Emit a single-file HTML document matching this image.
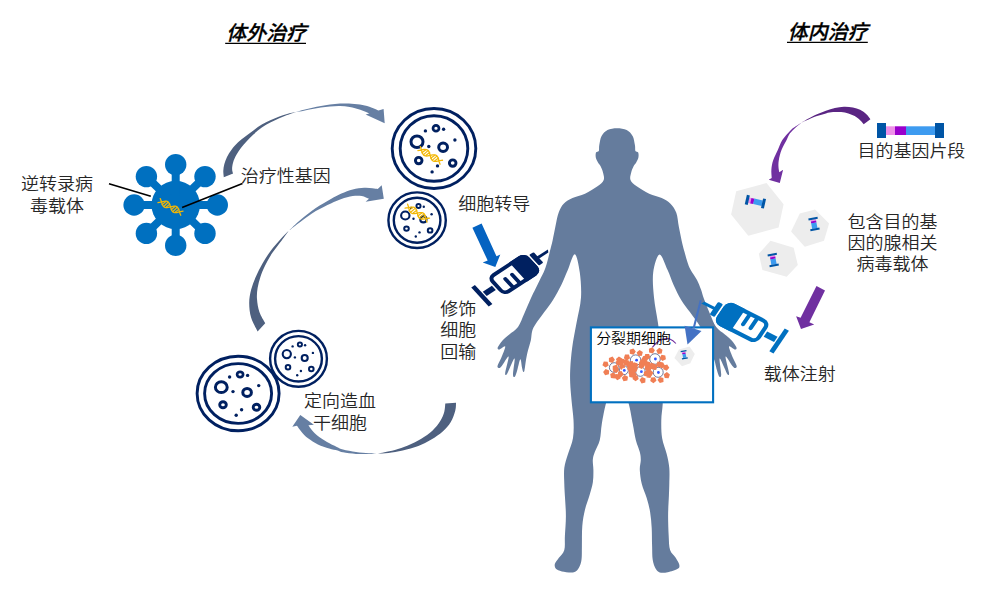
<!DOCTYPE html>
<html lang="zh-CN">
<head>
<meta charset="utf-8">
<title>基因治疗示意图</title>
<style>
html,body{margin:0;padding:0;background:#fff;}
body{width:1002px;height:594px;overflow:hidden;font-family:"Liberation Sans","Noto Sans CJK SC",sans-serif;}
svg{display:block;}
text{font-family:"Liberation Sans","Noto Sans CJK SC",sans-serif;}
</style>
</head>
<body>
<svg width="1002" height="594" viewBox="0 0 1002 594">
<rect width="1002" height="594" fill="#fff"/>
<g id="arrows">
<path fill="#4e607f" d="M223.8 177.2C223.7 176.1 223.2 172.8 223.3 170.7C223.4 168.5 223.7 166.6 224.3 164.3C224.9 162 225.8 159.4 227 156.9C228.2 154.4 229.8 151.9 231.7 149.4C233.5 146.9 235.8 144.4 238.1 142.2C240.4 140 242.8 138.4 245.3 136.4C247.9 134.4 250.7 132.4 253.4 130.4C256.1 128.4 259 126.3 261.8 124.6C264.6 122.9 267.5 121.6 270.3 120.3C273.1 119 275.9 117.8 278.7 116.7C281.5 115.6 284.2 114.7 287.1 113.9C290 113.1 294.5 112.3 296 112L296 112C294.5 112.5 290 114 287.1 115.1C284.2 116.2 281.5 117.2 278.7 118.5C275.9 119.8 273.1 121.1 270.3 122.6C267.5 124.1 264.6 125.6 261.8 127.6C259 129.6 256 132.1 253.4 134.4C250.8 136.7 248.6 139.3 246.5 141.6C244.4 143.9 242.6 145.9 240.9 148.1C239.2 150.3 237.6 152.6 236.3 155C235 157.4 233.8 160.1 233.1 162.4C232.4 164.7 232.1 167 232.1 168.9C232.1 170.8 232.9 172.8 233.1 173.6Z"/><path fill="#667fa3" d="M296 112C297.3 111.6 301.2 110.4 303.9 109.7C306.6 109 309.5 108.4 312.4 107.8C315.2 107.2 318.1 106.5 321 106C323.9 105.5 326.8 104.9 330 104.5C333.2 104.1 336.8 103.8 340 103.6C343.2 103.4 345.7 103.3 349 103.5C352.3 103.7 356.6 104 360 104.5C363.4 105 366.3 105.7 369.4 106.7C372.5 107.7 377 109.9 378.5 110.5L383.6 108.9L384.7 123.3L365.6 114.6L369.4 113.5C367.9 112.9 363.6 110.8 360.3 109.7C357 108.6 353.1 107.6 349.7 107C346.3 106.4 343.3 106.1 340 106C336.7 105.9 333.2 106.2 330 106.4C326.8 106.6 323.9 107 321 107.4C318.1 107.9 315.2 108.5 312.4 109.1C309.5 109.6 306.6 110.2 303.9 110.7C301.2 111.2 297.3 111.8 296 112Z"/>
<path fill="#4e607f" d="M257.6 331.5C256.5 329.2 252.5 322.4 251.1 317.6C249.7 312.9 249.2 307.6 249.2 303C249.2 298.4 250 294.2 251.1 289.8C252.2 285.4 253.8 281.2 255.7 276.9C257.6 272.6 259.7 268.2 262.2 263.9C264.7 259.6 267.5 255.1 270.6 250.9C273.7 246.7 277.7 242.2 280.7 238.9C283.7 235.6 287.2 232.3 288.5 231L288.5 231C287.4 232.6 284.4 236.8 281.7 240.4C279 244 275.2 248.6 272.4 252.8C269.6 257 267 261.7 265 265.7C263 269.7 261.6 273.2 260.4 276.9C259.2 280.6 258.2 284.3 257.6 288C257 291.7 256.7 295.1 257 299.1C257.3 303.1 258 308 259.4 312C260.8 316 264.2 321.3 265.2 323.2Z"/><path fill="#667fa3" d="M288.5 231C290.5 229.1 296.1 223.5 300.6 219.7C305.2 215.9 310.8 211.5 315.8 208C320.9 204.5 326.6 201.3 330.9 198.9C335.2 196.5 337.8 195.1 341.4 193.5C345 191.9 348.9 190.3 352.7 189.4C356.5 188.5 360.8 188 364.1 187.8C367.4 187.6 370.1 188 372.4 188.2C374.7 188.4 376.8 188.8 377.7 188.9L381.7 185.2L383.8 198.8L365.6 201.7L369 198.8C367.8 198.4 364.5 196.6 361.8 196.1C359.1 195.6 356.1 195.6 352.7 196.1C349.3 196.6 345 197.8 341.4 199C337.8 200.2 335.2 201.5 330.9 203.5C326.6 205.5 320.9 208.1 315.8 211.1C310.8 214.1 305.2 218.4 300.6 221.7C296.1 225 290.5 229.4 288.5 231Z"/>
<path fill="#4e607f" d="M456 402.8C455.9 404.1 456.2 407.2 455.3 410.4C454.4 413.6 452.9 418.6 450.8 422.1C448.8 425.6 446.2 428.3 443 431.2C439.8 434.1 435.4 437.1 431.3 439.6C427.2 442.1 423.1 444.3 418.3 446.1C413.5 447.9 407.7 449.5 402.7 450.6C397.7 451.7 392.5 452.4 388.4 452.9C384.3 453.4 379.7 453.3 378 453.4L378 453.4C379.1 453.2 381.7 452.9 384.5 452.3C387.3 451.7 391 451.1 394.9 450C398.8 448.9 403.6 447.3 407.9 445.5C412.2 443.7 416.8 441.5 420.9 439C425 436.5 429.4 433.5 432.6 430.5C435.9 427.5 438.4 423.9 440.4 420.8C442.3 417.7 443.5 414.6 444.3 411.7C445.1 408.8 445.1 405 445.3 403.6Z"/><path fill="#667fa3" d="M378 453.4C376.5 453.4 372.7 453.4 369 453.2C365.3 452.9 360.3 452.5 356 451.9C351.7 451.3 346.2 450.2 343 449.4C339.8 448.6 339.5 448.1 336.8 446.9C334.1 445.7 330.1 443.9 327 442.1C323.9 440.3 320.4 438.1 317.9 436.1C315.4 434.1 313.4 431.8 311.8 430C310.2 428.2 309 426.1 308.4 425.3L313.9 424.8L300.3 415L292.3 426.7L297 425.8C297.7 426.8 299.4 429.4 301.2 431.5C303 433.6 305.2 436.2 308 438.3C310.8 440.4 314.4 442.7 317.9 444.4C321.4 446.1 325.9 447.4 329.2 448.4C332.5 449.4 335.3 449.8 337.6 450.4C339.9 451 339.9 451.7 343 452.3C346.1 452.9 351.7 453.6 356 453.9C360.3 454.2 365.3 454.1 369 454C372.7 453.9 376.5 453.5 378 453.4Z"/>
<path fill="#5a2583" d="M870.4 119.3C869.7 118.5 868.1 115.9 866.4 114.3C864.7 112.7 862.4 110.9 860.1 109.8C857.9 108.7 855.6 107.9 852.9 107.4C850.2 106.9 846.9 106.6 843.9 106.7C840.9 106.8 837.9 107.3 834.9 108C831.9 108.7 828.9 109.7 825.9 110.7C822.9 111.8 820 113 817 114.3C814 115.6 810.5 117.4 808 118.8C805.5 120.2 802.8 121.9 801.7 122.5L801.7 122.5C802.8 122 805.5 120.8 808 119.7C810.5 118.6 814 117.1 817 116.1C820 115 823.2 114.1 825.9 113.4C828.6 112.7 830.5 112.3 833.1 112.1C835.7 111.9 838.7 111.9 841.2 112.1C843.8 112.3 846.1 112.7 848.4 113.4C850.6 114.1 852.8 115 854.7 116.1C856.7 117.2 858.6 118.8 860.1 120.2C861.6 121.6 863.1 123.5 863.7 124.2Z"/><path fill="#7030a0" d="M801.7 122.5C800.7 123.2 797.4 125.2 795.4 126.6C793.4 128 792.2 128.7 790 130.9C787.8 133.1 784.3 136.8 782.3 140C780.3 143.2 779.3 146.7 777.8 150.1C776.3 153.5 774.3 157 773.2 160.2C772.1 163.4 771.6 166.4 771.4 169.3C771.1 172.2 771.7 176.5 771.7 177.9L768.7 179.7L779.8 182.9L783.1 169.8L779.3 172.3C779.2 171.5 778.6 169.3 778.5 167.3C778.4 165.3 778.3 163.1 778.8 160.2C779.3 157.3 780.2 153.5 781.5 150.1C782.8 146.7 785.2 142.8 786.6 140C788 137.2 788.5 135.2 790 133.2C791.5 131.2 793.4 129.6 795.4 127.8C797.4 126 800.7 123.4 801.7 122.5Z"/>
<path fill="#0563c1" d="M472.4 227.7L481.6 223.5L496.5 256.3L500.3 254.4L495.3 266.9L482.7 262.4L487.7 260.6Z"/>
<path fill="#7030a0" d="M816.5 286.1L825 290.6L809.4 322.2L814.2 324.4L801 328.9L796.1 316.2L800.6 317.7Z"/>
</g>
<g id="virus" fill="#0070c0" stroke="#0070c0"><circle cx="175.7" cy="205" r="24.2" stroke="none"/><path d="M175.7 205L217.3 205M175.7 205L205 233.4M175.7 205L175.7 245.4M175.7 205L146.4 233.4M175.7 205L134.1 205M175.7 205L146.4 176.6M175.7 205L175.7 164.6M175.7 205L205 176.6" stroke-width="8" fill="none"/><circle cx="217.3" cy="205" r="10.7" stroke="none"/><circle cx="205" cy="233.4" r="10.7" stroke="none"/><circle cx="175.7" cy="245.4" r="10.7" stroke="none"/><circle cx="146.4" cy="233.4" r="10.7" stroke="none"/><circle cx="134.1" cy="205" r="10.7" stroke="none"/><circle cx="146.4" cy="176.6" r="10.7" stroke="none"/><circle cx="175.7" cy="164.6" r="10.7" stroke="none"/><circle cx="205" cy="176.6" r="10.7" stroke="none"/></g>
<g transform="translate(170.5 206.9) rotate(29) scale(0.93)" fill="none" stroke="#f2b705" stroke-linecap="round"><path stroke-width="1.4" d="M-14 2.5L-13 1.7L-12 0.9L-11 -0.1L-10 -1L-9 -1.9L-8 -2.6L-7 -3.1L-6 -3.4L-5 -3.4L-4 -3.1L-3 -2.6L-2 -1.8L-1 -0.9L0 0L1 0.9L2 1.8L3 2.6L4 3.1L5 3.4L6 3.4L7 3.1L8 2.6L9 1.9L10 1L11 0.1L12 -0.9L13 -1.7L14 -2.5M-14 -2.5L-13 -1.7L-12 -0.9L-11 0.1L-10 1L-9 1.9L-8 2.6L-7 3.1L-6 3.4L-5 3.4L-4 3.1L-3 2.6L-2 1.8L-1 0.9L0 0L1 -0.9L2 -1.8L3 -2.6L4 -3.1L5 -3.4L6 -3.4L7 -3.1L8 -2.6L9 -1.9L10 -1L11 -0.1L12 0.9L13 1.7L14 2.5"/><path stroke-width="1.26" d="M-9.1 2.3L-7.3 -2.3M-6.5 3.1L-4.7 -3.1M-3.9 2.3L-2.1 -2.3M2.1 2.3L3.9 -2.3M4.7 3.1L6.5 -3.1M7.3 2.3L9.1 -2.3"/></g>
<path d="M109 183.8L150.8 196.2M182.1 207.6L242.5 183.6" stroke="#000" stroke-width="1.6" fill="none"/>
<g id="dishes">
<g fill="none" stroke="#002060"><ellipse cx="434" cy="148.5" rx="41.8" ry="40" stroke-width="2.9"/><ellipse cx="434" cy="148.5" rx="33.8" ry="32.8" stroke-width="2.9"/><ellipse cx="417" cy="141.8" rx="6" ry="5.8" stroke-width="3"/><ellipse cx="436" cy="128.2" rx="3" ry="2.9" stroke-width="2.7"/><ellipse cx="443.1" cy="147.3" rx="4.4" ry="4.2" stroke-width="3"/><ellipse cx="418.7" cy="160.6" rx="3.3" ry="3.2" stroke-width="2.9"/><ellipse cx="452.7" cy="163.1" rx="3.3" ry="3.2" stroke-width="2.9"/><circle cx="425.4" cy="130.9" r="1.7" fill="#002060" stroke="none"/><circle cx="443.6" cy="129.2" r="1.7" fill="#002060" stroke="none"/><circle cx="454.9" cy="140" r="1.7" fill="#002060" stroke="none"/><circle cx="428.8" cy="146.5" r="1.7" fill="#002060" stroke="none"/><circle cx="437.5" cy="165.9" r="1.7" fill="#002060" stroke="none"/><circle cx="432.1" cy="171.9" r="1.7" fill="#002060" stroke="none"/></g>
<g transform="translate(430.2 155.4) rotate(31.7) scale(0.93)" fill="none" stroke="#f2b705" stroke-linecap="round"><path stroke-width="1.4" d="M-14 2.5L-13 1.7L-12 0.9L-11 -0.1L-10 -1L-9 -1.9L-8 -2.6L-7 -3.1L-6 -3.4L-5 -3.4L-4 -3.1L-3 -2.6L-2 -1.8L-1 -0.9L0 0L1 0.9L2 1.8L3 2.6L4 3.1L5 3.4L6 3.4L7 3.1L8 2.6L9 1.9L10 1L11 0.1L12 -0.9L13 -1.7L14 -2.5M-14 -2.5L-13 -1.7L-12 -0.9L-11 0.1L-10 1L-9 1.9L-8 2.6L-7 3.1L-6 3.4L-5 3.4L-4 3.1L-3 2.6L-2 1.8L-1 0.9L0 0L1 -0.9L2 -1.8L3 -2.6L4 -3.1L5 -3.4L6 -3.4L7 -3.1L8 -2.6L9 -1.9L10 -1L11 -0.1L12 0.9L13 1.7L14 2.5"/><path stroke-width="1.26" d="M-9.1 2.3L-7.3 -2.3M-6.5 3.1L-4.7 -3.1M-3.9 2.3L-2.1 -2.3M2.1 2.3L3.9 -2.3M4.7 3.1L6.5 -3.1M7.3 2.3L9.1 -2.3"/></g>
<g fill="none" stroke="#002060"><ellipse cx="417.1" cy="220.2" rx="28.7" ry="27.8" stroke-width="2.4"/><ellipse cx="417.1" cy="220.2" rx="23.3" ry="22.5" stroke-width="2.4"/><ellipse cx="405.3" cy="215.5" rx="4.2" ry="4" stroke-width="2.1"/><ellipse cx="418.5" cy="206" rx="2.1" ry="2" stroke-width="1.9"/><ellipse cx="423.4" cy="219.4" rx="3.1" ry="3" stroke-width="2.1"/><ellipse cx="406.5" cy="228.6" rx="2.3" ry="2.2" stroke-width="2"/><ellipse cx="430.1" cy="230.4" rx="2.3" ry="2.2" stroke-width="2"/><circle cx="411.1" cy="207.9" r="1.2" fill="#002060" stroke="none"/><circle cx="423.8" cy="206.7" r="1.2" fill="#002060" stroke="none"/><circle cx="431.6" cy="214.3" r="1.2" fill="#002060" stroke="none"/><circle cx="413.5" cy="218.8" r="1.2" fill="#002060" stroke="none"/><circle cx="419.5" cy="232.4" r="1.2" fill="#002060" stroke="none"/><circle cx="415.8" cy="236.5" r="1.2" fill="#002060" stroke="none"/></g>
<g transform="translate(417.3 213.1) rotate(32.5) scale(0.93)" fill="none" stroke="#f2b705" stroke-linecap="round"><path stroke-width="1.4" d="M-14 2.5L-13 1.7L-12 0.9L-11 -0.1L-10 -1L-9 -1.9L-8 -2.6L-7 -3.1L-6 -3.4L-5 -3.4L-4 -3.1L-3 -2.6L-2 -1.8L-1 -0.9L0 0L1 0.9L2 1.8L3 2.6L4 3.1L5 3.4L6 3.4L7 3.1L8 2.6L9 1.9L10 1L11 0.1L12 -0.9L13 -1.7L14 -2.5M-14 -2.5L-13 -1.7L-12 -0.9L-11 0.1L-10 1L-9 1.9L-8 2.6L-7 3.1L-6 3.4L-5 3.4L-4 3.1L-3 2.6L-2 1.8L-1 0.9L0 0L1 -0.9L2 -1.8L3 -2.6L4 -3.1L5 -3.4L6 -3.4L7 -3.1L8 -2.6L9 -1.9L10 -1L11 -0.1L12 0.9L13 1.7L14 2.5"/><path stroke-width="1.26" d="M-9.1 2.3L-7.3 -2.3M-6.5 3.1L-4.7 -3.1M-3.9 2.3L-2.1 -2.3M2.1 2.3L3.9 -2.3M4.7 3.1L6.5 -3.1M7.3 2.3L9.1 -2.3"/></g>
<g fill="none" stroke="#002060"><ellipse cx="238.1" cy="393.5" rx="41" ry="37.3" stroke-width="2.9"/><ellipse cx="238.1" cy="393.5" rx="33.5" ry="29.9" stroke-width="2.9"/><ellipse cx="221.3" cy="387.2" rx="5.9" ry="5.4" stroke-width="3"/><ellipse cx="240.1" cy="374.5" rx="3" ry="2.7" stroke-width="2.7"/><ellipse cx="247.1" cy="392.4" rx="4.3" ry="4" stroke-width="3"/><ellipse cx="223" cy="404.8" rx="3.3" ry="3" stroke-width="2.9"/><ellipse cx="256.5" cy="407.2" rx="3.3" ry="3" stroke-width="2.9"/><circle cx="229.6" cy="377" r="1.7" fill="#002060" stroke="none"/><circle cx="247.6" cy="375.4" r="1.7" fill="#002060" stroke="none"/><circle cx="258.7" cy="385.6" r="1.7" fill="#002060" stroke="none"/><circle cx="233" cy="391.6" r="1.7" fill="#002060" stroke="none"/><circle cx="241.6" cy="409.8" r="1.7" fill="#002060" stroke="none"/><circle cx="236.2" cy="415.3" r="1.7" fill="#002060" stroke="none"/></g>
<g fill="none" stroke="#002060"><ellipse cx="298.5" cy="358.8" rx="28.4" ry="27.9" stroke-width="2.4"/><ellipse cx="298.5" cy="358.8" rx="23.4" ry="22.7" stroke-width="2.4"/><ellipse cx="286.8" cy="354.1" rx="4.1" ry="4.1" stroke-width="2.1"/><ellipse cx="299.9" cy="344.5" rx="2.1" ry="2" stroke-width="1.9"/><ellipse cx="304.7" cy="358" rx="3" ry="3" stroke-width="2.1"/><ellipse cx="288" cy="367.3" rx="2.3" ry="2.2" stroke-width="2"/><ellipse cx="311.3" cy="369" rx="2.3" ry="2.2" stroke-width="2"/><circle cx="292.6" cy="346.4" r="1.2" fill="#002060" stroke="none"/><circle cx="305.1" cy="345.2" r="1.2" fill="#002060" stroke="none"/><circle cx="312.9" cy="352.9" r="1.2" fill="#002060" stroke="none"/><circle cx="294.9" cy="357.4" r="1.2" fill="#002060" stroke="none"/><circle cx="300.9" cy="371" r="1.2" fill="#002060" stroke="none"/><circle cx="297.2" cy="375.2" r="1.2" fill="#002060" stroke="none"/></g>
</g>
<g id="figure"><path fill="#657c9d" d="M617 128.2C613.8 128.2 610.1 128.7 607.5 130C604.9 131.3 603 133.5 601.6 136C600.2 138.5 599.8 142.5 599.3 145C598.8 147.5 599.3 149.8 598.8 151C598.2 152.2 596.5 151.4 596 152.5C595.5 153.6 595.5 155.8 595.8 157.5C596.1 159.2 597.2 161.1 598 162.5C598.8 163.9 599.7 164.3 600.5 166C601.3 167.7 602.5 170.2 603 172.5C603.5 174.8 604.6 177.7 603.7 180C602.8 182.3 600.6 184 597.5 186.3C594.4 188.6 589.2 191.8 585 193.7C580.8 195.6 576 196.3 572.5 198C569 199.7 566 201.3 563.7 203.7C561.4 206.1 560.1 208.8 558.7 212.5C557.3 216.2 556.5 221.3 555.5 226C554.5 230.7 553.5 236.2 552.6 240.4C551.7 244.6 550.8 247.6 549.9 251.2C549 254.8 548.1 258.9 547.2 262C546.3 265.1 545.8 267.1 544.6 270.1C543.4 273.1 541.3 276.9 539.8 280C538.3 283.1 536.9 285.9 535.4 289C533.9 292.1 532.6 294.4 530.8 298.5C528.9 302.6 526.4 308.8 524.3 313.5C522.2 318.2 520.5 323.5 518 327C515.5 330.5 511.9 332.2 509.3 334.4C506.7 336.6 504.4 338.3 502.5 340.4C500.6 342.5 498.4 345.7 497.8 347.2C497.2 348.7 498 349.7 499.2 349.6C500.4 349.5 504.9 345.1 505.2 346.5C505.5 347.9 502.5 354.8 501.2 358C499.9 361.2 497.8 364.3 497.5 366C497.2 367.7 498.5 368 499.2 368C499.9 368 500.2 367.9 501.8 366C503.4 364.1 508 355.5 508.6 356.6C509.2 357.7 505.5 369.8 505.2 372.8C504.9 375.8 505.8 375.3 506.6 374.4C507.4 373.5 508.7 370 510 367.4C511.3 364.8 514.1 357.4 514.6 358.6C515.1 359.8 512.9 371.8 513 374.8C513.1 377.8 514.3 377.3 515 376.5C515.7 375.7 516.4 372.9 517.3 370C518.2 367.1 519.5 359.7 520.3 359.3C521.1 358.9 521.5 365.4 522 367.4C522.5 369.4 522.7 370.8 523.1 371.4C523.5 372 523.9 372.8 524.4 370.8C524.9 368.8 525.5 362.8 526.1 359.3C526.7 355.8 527.3 353 528.1 349.9C528.9 346.8 530.1 343.5 530.8 340.4C531.5 337.2 531.4 333.7 532.2 331C533 328.3 533.5 327.4 535.5 324.3C537.5 321.2 541.4 316.2 544.3 312.1C547.2 308.1 550.2 304.5 553 300C555.8 295.5 558.8 290 561.3 285C563.8 280 565.5 275.1 567.8 270C570 264.9 572.8 253.8 574.8 254.2C576.8 254.6 578.8 265.3 579.8 272.5C580.8 279.7 581.5 289.2 581 297.5C580.5 305.8 578.1 314.2 576.6 322.5C575.1 330.8 573.2 339.9 572.2 347.5C571.2 355.1 570.6 362.1 570.3 368C570 373.9 570 377.7 570.2 383C570.4 388.3 571 393.8 571.5 400C572 406.2 573.2 413.7 573.5 420C573.8 426.3 573.9 432.3 573 438C572.1 443.7 569.5 449 568 454C566.5 459 564.9 463 564.3 468C563.7 473 564.2 479.3 564.3 484C564.4 488.7 564.6 490.7 564.9 496C565.2 501.3 565.9 509.3 565.9 516C565.9 522.7 565.2 530.4 564.9 536C564.6 541.6 565.3 546.3 564.3 549.9C563.3 553.5 560.5 555.5 558.9 557.8C557.3 560.1 555.4 562 554.9 563.8C554.4 565.6 554.7 567.5 555.9 568.8C557.1 570.1 558.9 570.8 561.9 571.4C564.9 572 571.1 572.8 573.9 572.2C576.7 571.6 577.6 569.9 578.9 567.8C580.2 565.7 581 563.4 581.5 559.8C582 556.1 581.8 551.5 581.9 545.9C582 540.2 581.8 531.9 582.3 525.9C582.8 519.9 583.6 515.2 584.9 509.9C586.2 504.6 588.6 498.6 589.9 494C591.2 489.4 592.3 486 592.9 482C593.5 478 593.4 473.7 593.4 470C593.4 466.3 592.6 463 592.8 460C593 457 593.6 455.3 594.8 452C596 448.7 598.6 444.7 599.8 440C601 435.3 600.8 430 601.8 424C602.8 418 604.4 409.3 605.8 404C607.2 398.7 608.1 395 610 392C611.9 389 614.7 386 617 386C619.3 386 622 389 624 392C626 395 627.3 398.7 628.8 404C630.3 409.3 631.6 418 632.8 424C634 430 634.6 435.3 635.8 440C637 444.7 639 448.7 639.8 452C640.6 455.3 640.8 457 640.8 460C640.8 463 639.6 466 639.8 470C640 474 640.6 479.3 641.8 484C642.9 488.7 645.3 493.4 646.7 498C648.1 502.6 649.3 506.9 650.1 511.9C650.9 516.9 651.4 522.2 651.7 527.9C652 533.6 651.9 540.6 652.1 545.9C652.3 551.2 652.1 556 652.7 559.8C653.3 563.6 654.5 566.7 655.7 568.8C656.9 570.9 657.7 571.8 659.7 572.4C661.7 573 664.7 572.8 667.7 572.2C670.7 571.6 675.8 570 677.7 568.8C679.6 567.6 679.6 566.6 679.3 564.8C679 563 677.2 560.3 675.7 557.8C674.2 555.3 671.3 553.5 670.1 549.9C668.9 546.2 669 541.6 668.7 535.9C668.4 530.2 668.1 522.5 668.1 515.9C668.1 509.2 668.7 501.3 668.9 496C669.1 490.7 669.2 488.7 669.3 484C669.4 479.3 669.7 473 669.3 468C668.9 463 667.9 459 666.7 454C665.5 449 663 443.7 662.1 438C661.2 432.3 661.2 425.7 661.3 420C661.4 414.3 662.4 409.8 662.7 404C663 398.2 662.8 391 663 385C663.2 379 664.2 374.2 663.9 368C663.6 361.8 662.2 355.1 661.2 347.5C660.2 339.9 659.1 330.8 657.9 322.5C656.7 314.2 654.8 305.8 654 297.5C653.2 289.2 652.3 279.7 653.2 272.5C654.1 265.3 657.1 254.9 659.5 254.5C661.9 254.1 665.2 264.9 667.6 270C670 275.1 671.3 280 673.6 285C675.9 290 678.5 295.5 681.2 300C683.9 304.5 687 308.1 689.9 312.1C692.8 316.2 696.7 321.2 698.7 324.3C700.7 327.4 701.2 328.3 702 331C702.8 333.7 702.7 337.2 703.4 340.4C704.1 343.5 705.3 346.8 706.1 349.9C706.9 353 707.5 355.8 708.1 359.3C708.7 362.8 709.3 368.8 709.8 370.8C710.3 372.8 710.7 372 711.1 371.4C711.5 370.8 711.7 369.4 712.2 367.4C712.7 365.4 713.1 358.9 713.9 359.3C714.7 359.7 716 367.1 716.9 370C717.8 372.9 718.5 375.7 719.2 376.5C719.9 377.3 721.1 377.8 721.2 374.8C721.3 371.8 719.1 359.8 719.6 358.6C720.1 357.4 722.9 364.8 724.2 367.4C725.5 370 726.8 373.5 727.6 374.4C728.4 375.3 729.3 375.8 729 372.8C728.7 369.8 725 357.7 725.6 356.6C726.2 355.5 730.8 364.1 732.4 366C734 367.9 734.3 368 735 368C735.7 368 737 367.7 736.7 366C736.4 364.3 734.3 361.2 733 358C731.7 354.8 728.7 347.9 729 346.5C729.3 345.1 733.8 349.5 735 349.6C736.2 349.7 737 348.7 736.4 347.2C735.9 345.7 733.6 342.5 731.7 340.4C729.8 338.3 727.5 336.6 724.9 334.4C722.3 332.2 718.7 330.5 716.2 327C713.7 323.5 711.8 318.2 709.8 313.5C707.8 308.8 705.5 303 704 299C702.5 295 702.2 292.7 701 289.5C699.8 286.3 698.7 283.3 697 280C695.3 276.7 692.2 272.8 690.6 269.8C689 266.8 688.4 265.1 687.4 262C686.4 258.9 685.4 255.1 684.4 251.5C683.4 247.9 682.5 244.6 681.6 240.4C680.7 236.2 679.7 231.1 678.8 226.5C677.9 221.9 677.7 216.6 676.3 212.8C674.9 209 672.9 206.2 670.5 203.7C668.1 201.2 665.2 199.7 661.7 198C658.2 196.3 653.4 195.6 649.2 193.7C645 191.8 639.8 188.6 636.7 186.3C633.6 184 631.4 182.3 630.5 180C629.6 177.7 630.7 174.8 631.2 172.5C631.7 170.2 632.9 167.7 633.7 166C634.5 164.3 635.4 163.9 636.2 162.5C637 161.1 638.1 159.2 638.4 157.5C638.7 155.8 638.7 153.6 638.2 152.5C637.7 151.4 636 152.2 635.4 151C634.9 149.8 635.4 147.5 634.9 145C634.4 142.5 634 138.5 632.6 136C631.2 133.5 629.3 131.3 626.7 130C624.1 128.7 620.2 128.2 617 128.2Z"/></g>
<g id="syringe-left"><g transform="matrix(0.8368 -0.5476 0.6769 0.7361 514.2 274.6)" fill="#002060" stroke="none"><rect x="-20.8" y="-11.1" width="41.9" height="22.1" rx="5.2" fill="#fff" stroke="#002060" stroke-width="3.9"/><path d="M4.6 -13H15.9A7.2 7.2 0 0 1 23.1 -5.8V5.8A7.2 7.2 0 0 1 15.9 13H4.6Z"/><path d="M-11.5 11.1V-1.2A1.95 1.95 0 0 1 -7.6 -1.2V11.1Z"/><path d="M-3.5 11.1V-1.6A1.95 1.95 0 0 1 0.3 -1.6V11.1Z"/><rect x="24.7" y="-8.4" width="5.2" height="14.4" rx="1.1"/><path d="M29.2 -2.7L42.4 -2.6L40.6 0.2L29.2 0.3Z"/><rect x="-35.2" y="-2.9" width="10.9" height="5.8"/><rect x="-40.9" y="-12.9" width="4.4" height="25.8"/></g></g>
<g id="vectors">
<path fill="#ededed" d="M736.2 191.2L766.5 183.1L783.6 204.3L778.6 227.6L748.3 235.7L731.1 214.4Z"/>
<path fill="#ededed" d="M799.8 213.4L815 209.4L829.1 223.5L824 240.7L804.8 246.8L791.1 231.6Z"/>
<path fill="#ededed" d="M770.5 240.7L793.7 247.8L797.8 264.9L786.7 276.7L762.4 270L758.8 253.8Z"/>
<g transform="translate(755.4 201.7) rotate(12.5) scale(1.0 1.0)"><rect x="-7" y="-2.8" width="2.5" height="5.6" fill="#ee90e8"/><rect x="-4.7" y="-2.8" width="3.2" height="5.6" fill="#9900cc"/><rect x="-1.7" y="-2.8" width="8.7" height="5.6" fill="#3d9bf0"/><rect x="-9.8" y="-4.9" width="3" height="9.8" fill="#0055a5"/><rect x="6.8" y="-4.9" width="3" height="9.8" fill="#0055a5"/></g>
<g transform="translate(814 224) rotate(80) scale(0.66 0.95)"><rect x="-7" y="-2.8" width="2.5" height="5.6" fill="#ee90e8"/><rect x="-4.7" y="-2.8" width="3.2" height="5.6" fill="#9900cc"/><rect x="-1.7" y="-2.8" width="8.7" height="5.6" fill="#3d9bf0"/><rect x="-9.8" y="-4.9" width="3" height="9.8" fill="#0055a5"/><rect x="6.8" y="-4.9" width="3" height="9.8" fill="#0055a5"/></g>
<g transform="translate(773.2 260) rotate(80) scale(0.66 0.95)"><rect x="-7" y="-2.8" width="2.5" height="5.6" fill="#ee90e8"/><rect x="-4.7" y="-2.8" width="3.2" height="5.6" fill="#9900cc"/><rect x="-1.7" y="-2.8" width="8.7" height="5.6" fill="#3d9bf0"/><rect x="-9.8" y="-4.9" width="3" height="9.8" fill="#0055a5"/><rect x="6.8" y="-4.9" width="3" height="9.8" fill="#0055a5"/></g>
<g id="genebar"><rect x="886" y="126.3" width="9.2" height="8.7" fill="#ee90e8"/><rect x="895" y="126.3" width="11.2" height="8.7" fill="#9900cc"/><rect x="906" y="126.3" width="29.2" height="8.7" fill="#3d9bf0"/><rect x="877" y="123" width="9" height="15" fill="#0055a5"/><rect x="935" y="123" width="9" height="15" fill="#0055a5"/></g>
</g>
<g id="titles" font-weight="500" font-style="italic" stroke="#000" stroke-width="0.3">
<text x="266.3" y="40.1" font-size="20" text-anchor="middle" fill="#000">体外治疗</text>
<text x="827.8" y="39.2" font-size="20" text-anchor="middle" fill="#000">体内治疗</text>
<path d="M225.2 43.3H306M787 42.3H867.8" stroke="#000" stroke-width="1.3" fill="none"/>
</g>
<g id="labels" font-weight="350">
<text transform="translate(57 190.3) scale(1 0.92)" font-size="18" text-anchor="middle" fill="#262626">逆转录病</text>
<text transform="translate(57 212.2) scale(1 0.92)" font-size="18" text-anchor="middle" fill="#262626">毒载体</text>
<text transform="translate(285.8 182.4) scale(1 0.92)" font-size="18" text-anchor="middle" fill="#262626">治疗性基因</text>
<text transform="translate(494.3 210.3) scale(1 0.92)" font-size="18" text-anchor="middle" fill="#262626">细胞转导</text>
<text transform="translate(458.2 314.6) scale(1 0.92)" font-size="18" text-anchor="middle" fill="#262626">修饰</text>
<text transform="translate(458.2 336.1) scale(1 0.92)" font-size="18" text-anchor="middle" fill="#262626">细胞</text>
<text transform="translate(458.2 357.6) scale(1 0.92)" font-size="18" text-anchor="middle" fill="#262626">回输</text>
<text transform="translate(340 406.5) scale(1 0.92)" font-size="18" text-anchor="middle" fill="#262626">定向造血</text>
<text transform="translate(340 428.5) scale(1 0.92)" font-size="18" text-anchor="middle" fill="#262626">干细胞</text>
<text transform="translate(911.4 157.3) scale(1 0.92)" font-size="18" text-anchor="middle" fill="#262626">目的基因片段</text>
<text transform="translate(892.4 227.5) scale(1 0.92)" font-size="18" text-anchor="middle" fill="#262626">包含目的基</text>
<text transform="translate(892.4 248.9) scale(1 0.92)" font-size="18" text-anchor="middle" fill="#262626">因的腺相关</text>
<text transform="translate(892.4 270.3) scale(1 0.92)" font-size="18" text-anchor="middle" fill="#262626">病毒载体</text>
<text transform="translate(799.8 379.5) scale(1 0.92)" font-size="18" text-anchor="middle" fill="#262626">载体注射</text>
</g>
<g id="box">
<rect x="590.9" y="327.4" width="122.2" height="74.9" fill="#fff" stroke="#0070c0" stroke-width="2.1"/>
<path d="M652.4 347.3Q660 337 669.8 338.9Q673 340 675.9 343.5" fill="none" stroke="#7030a0" stroke-width="1.1"/>
<text transform="translate(633.6 342.8) scale(1 0.93)" font-size="15" text-anchor="middle" fill="#000" font-weight="350">分裂期细胞</text>
<circle cx="614.2" cy="367.5" r="4.8" fill="#fff" stroke="#4a5680" stroke-width="0.8"/><circle cx="623.9" cy="370.3" r="4.4" fill="#fff" stroke="#4a5680" stroke-width="0.8"/><circle cx="635.6" cy="360.2" r="5.3" fill="#fff" stroke="#4a5680" stroke-width="0.8"/><circle cx="640.4" cy="371.5" r="4.8" fill="#fff" stroke="#4a5680" stroke-width="0.8"/><circle cx="655" cy="359" r="5.3" fill="#fff" stroke="#4a5680" stroke-width="0.8"/><circle cx="658.2" cy="372.3" r="5" fill="#fff" stroke="#4a5680" stroke-width="0.8"/>
<path fill="#f07f55" d="M603.8 361.6L607.6 361.7L608.7 365.5L605.5 367.6L602.4 365.3ZM612.6 356.6L614.9 359.7L612.6 362.9L608.9 361.7L608.9 357.9ZM622.2 358.6L621.2 362.4L617.3 362.6L615.9 359L618.9 356.5ZM625.1 368.3L621.5 369.9L618.9 367L620.9 363.6L624.7 364.5ZM621 377.2L617.6 375.4L618.2 371.6L622.1 371L623.8 374.5ZM610.9 377.9L610.2 374.1L613.6 372.2L616.4 374.9L614.7 378.4ZM603.1 371.9L605.6 369L609.2 370.5L608.9 374.3L605.1 375.2ZM633.1 377.8L629.3 377L628.9 373.2L632.4 371.6L635 374.5ZM623.5 381.2L621.8 377.8L624.6 375L628 376.8L627.4 380.6ZM614.4 377.6L616.1 374.1L619.9 374.5L620.7 378.3L617.3 380.2ZM613.3 367.5L617 366.6L619.1 369.9L616.6 372.9L613 371.4ZM618.8 359.5L621.9 361.8L620.6 365.5L616.7 365.4L615.6 361.7ZM628.9 360.6L628.9 364.4L625.3 365.7L622.9 362.6L625.2 359.4ZM635.5 367.8L632.5 370.3L629.3 368.2L630.2 364.4L634.1 364.2ZM633.4 348.5L635.8 351.5L633.6 354.7L629.9 353.7L629.7 349.8ZM642.8 352L641.9 355.8L638.1 356.1L636.6 352.5L639.5 350ZM647.5 360.6L644 362.3L641.3 359.5L643.2 356.1L647 356.8ZM641.9 369.1L638.5 367.4L639 363.5L642.8 362.9L644.6 366.3ZM632.5 371.7L631.6 367.9L635 366L637.9 368.5L636.3 372.1ZM625.5 364.4L627.9 361.4L631.5 362.8L631.3 366.7L627.6 367.7ZM625 354.6L628.9 354.6L630.1 358.3L626.9 360.6L623.8 358.3ZM641.6 383.4L639.5 380.1L641.9 377.1L645.5 378.5L645.3 382.4ZM632.5 379L633.7 375.3L637.6 375.4L638.7 379.1L635.6 381.3ZM628.6 370L632.2 368.7L634.6 371.7L632.5 374.9L628.7 373.9ZM634.9 362.1L638.2 364.1L637.3 367.9L633.4 368.2L631.9 364.6ZM644.5 360.3L645 364.1L641.5 365.8L638.8 363L640.7 359.6ZM650.9 368.2L648.2 371L644.7 369.3L645.2 365.4L649 364.7ZM650.4 378L646.6 377.6L645.7 373.8L649.1 371.8L652 374.4ZM662.5 349.7L661.7 353.5L657.9 353.9L656.3 350.4L659.2 347.8ZM665.9 359.3L662.4 361L659.7 358.3L661.5 354.8L665.3 355.4ZM662.3 368.4L658.8 366.8L659.2 362.9L663 362.2L664.9 365.6ZM652.2 369.6L651.3 365.8L654.6 363.8L657.6 366.3L656.1 369.9ZM644.2 364L646.5 360.9L650.2 362.2L650.1 366.1L646.3 367.2ZM645.3 353.9L649.1 353.9L650.4 357.6L647.3 359.9L644.1 357.6ZM652.5 347.3L654.9 350.3L652.9 353.6L649.1 352.6L648.9 348.7ZM668.6 378.2L664.7 378L663.7 374.3L666.9 372.1L669.9 374.5ZM659.8 383.1L657.5 380L659.7 376.9L663.4 378L663.5 381.9ZM650.2 381.1L651.2 377.4L655.1 377.2L656.5 380.8L653.4 383.2ZM647.3 371.4L650.8 369.9L653.4 372.8L651.5 376.1L647.7 375.3ZM651.4 362.5L654.8 364.3L654.2 368.2L650.3 368.7L648.6 365.2ZM661.5 361.9L662.2 365.7L658.8 367.5L656 364.9L657.6 361.4ZM669.3 367.8L666.7 370.8L663.2 369.3L663.5 365.4L667.2 364.5ZM618.7 367.9L616.4 371L612.7 369.8L612.7 365.9L616.4 364.7ZM632.8 370.8L629 371.7L627 368.4L629.6 365.5L633.2 367ZM634.4 364.4L631.6 367.1L628.2 365.3L628.8 361.4L632.7 360.9ZM646.9 365.6L643.1 365.8L641.7 362.2L644.7 359.7L647.9 361.8ZM651.2 369.8L648 372L644.9 369.6L646.3 365.9L650.1 366.1ZM648.1 376.4L644.2 375.9L643.5 372.1L646.9 370.2L649.7 372.9ZM625.1 363L621.6 364.6L619 361.7L620.9 358.4L624.7 359.2ZM634.6 377.4L630.9 376.3L630.9 372.4L634.5 371.2L636.9 374.3ZM654.3 368.4L650.5 369.3L648.4 366L650.9 363L654.5 364.5Z"/>
<circle cx="624.3" cy="370.4" r="2.6" fill="#fff" opacity="0.85"/><circle cx="624.3" cy="370.4" r="1.4" fill="#3355ff"/><circle cx="636.6" cy="360.2" r="2.6" fill="#fff" opacity="0.85"/><circle cx="636.6" cy="360.2" r="1.4" fill="#3355ff"/><circle cx="641.4" cy="371.7" r="2.6" fill="#fff" opacity="0.85"/><circle cx="641.4" cy="371.7" r="1.4" fill="#3355ff"/><circle cx="655.4" cy="359" r="2.6" fill="#fff" opacity="0.85"/><circle cx="655.4" cy="359" r="1.4" fill="#3355ff"/><circle cx="658.4" cy="372.5" r="2.6" fill="#fff" opacity="0.85"/><circle cx="658.4" cy="372.5" r="1.4" fill="#3355ff"/>
<path fill="#ededed" d="M674.4 357.9L678.9 349.5L689.5 346.5L694.8 354.1L690.3 363.2L682 366.2Z"/>
<g transform="translate(684.2 354.8) rotate(80) scale(0.44 0.6)"><rect x="-7" y="-2.8" width="2.5" height="5.6" fill="#ee90e8"/><rect x="-4.7" y="-2.8" width="3.2" height="5.6" fill="#9900cc"/><rect x="-1.7" y="-2.8" width="8.7" height="5.6" fill="#3d9bf0"/><rect x="-9.8" y="-4.9" width="3" height="9.8" fill="#0055a5"/><rect x="6.8" y="-4.9" width="3" height="9.8" fill="#0055a5"/></g>
</g>
<g id="syringe-right"><g transform="matrix(-0.9514 -0.4785 0.5955 -0.8829 742.3 322.5)" fill="#0070c0" stroke="none"><g fill="#fff" stroke="#fff" stroke-width="4.2" stroke-linejoin="round"><rect x="-22.7" y="-12.6" width="45.8" height="25.2" rx="7.2"/></g><rect x="-20.8" y="-10.7" width="41.9" height="21.3" rx="5.2" fill="#fff" stroke="#0070c0" stroke-width="3.9"/><path d="M4.6 -12.6H15.9A7.2 7.2 0 0 1 23.1 -5.4V5.4A7.2 7.2 0 0 1 15.9 12.6H4.6Z"/><path d="M-11.5 10.7V-1.2A1.95 1.95 0 0 1 -7.6 -1.2V10.7Z"/><path d="M-3.5 10.7V-1.6A1.95 1.95 0 0 1 0.3 -1.6V10.7Z"/><rect x="24.7" y="-7.2" width="5.2" height="14.4" rx="1.1"/><path d="M29.2 -1.5L42.4 -1.4L40.6 1.4L29.2 1.5Z"/><rect x="-35.2" y="-2.9" width="10.9" height="5.8"/><rect x="-40.9" y="-12.9" width="4.4" height="25.8"/></g></g>
<g id="inj-arrow"><path d="M700.8 300.3L693.6 328.6" stroke="#4472c4" stroke-width="2.1" fill="none"/><path fill="#4472c4" d="M684.6 325.8L701.5 331.1L687.5 344.4Z"/></g>
</svg>
</body>
</html>
